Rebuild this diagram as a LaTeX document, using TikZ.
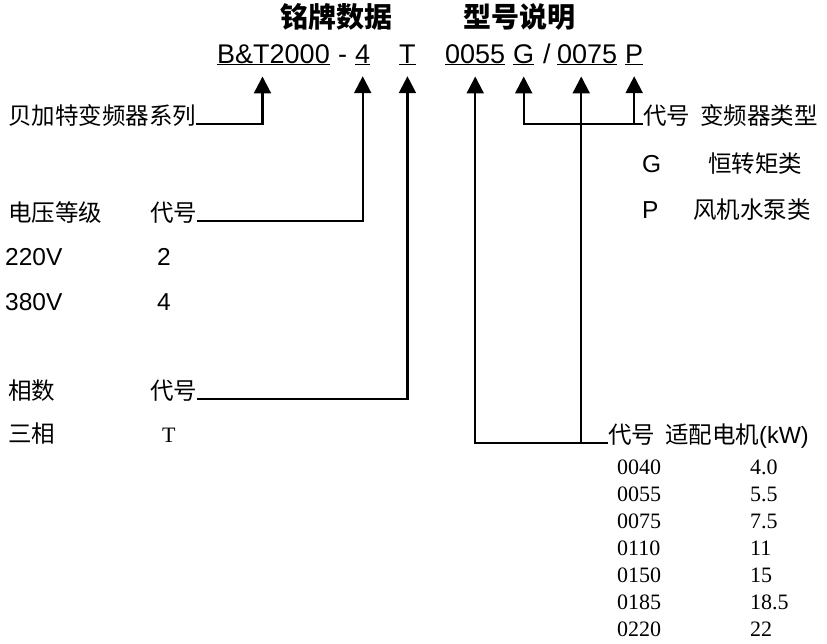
\documentclass[tikz,border=0pt]{standalone}
\usepackage{fontspec}
\setmainfont{Liberation Sans}
\newfontfamily\cjk{Noto Sans CJK SC}
\newfontfamily\tnr{Liberation Serif}
\usetikzlibrary{arrows.meta}

\begin{document}
\begin{tikzpicture}[x=1pt,y=-1pt,
    title/.style={anchor=base west,inner sep=0pt,font=\fontsize{28}{32}\selectfont\cjk\bfseries},
    code/.style={anchor=base west,inner sep=0pt,font=\fontsize{27}{32}\selectfont},
    cn/.style={anchor=base west,inner sep=0pt,font=\fontsize{23.5}{28}\selectfont\cjk},
    lat/.style={anchor=base west,inner sep=0pt,font=\fontsize{24.5}{28}\selectfont},
    tab/.style={anchor=base west,inner sep=0pt,font=\fontsize{22}{26}\selectfont\tnr},
    arr/.style={-{Triangle[width=17pt,length=17pt]},line width=2.2pt,shorten >=11pt}]
    \useasboundingbox (0,0) rectangle (827,643);

        % heading
        \node[title] (plate) at (280,27) {铭牌数据};
        \node[title] (model) at (463,27) {型号说明};

        % model code
        \node[code] (series) at (217,63) {\underline{B\&T2000}};
        \node[code] (dash)   at (338,63) {-};
        \node[code] (volt)   at (355,63) {\underline{4}};
        \node[code] (phase)  at (399,63) {\underline{T}};
        \node[code] (power)  at (445,63) {\underline{0055}};
        \node[code] (typeG)  at (513,63) {\underline{G}};
        \node[code] (slash)  at (543,63) {/};
        \node[code] (power2) at (557,63) {\underline{0075}};
        \node[code] (typeP)  at (625,63) {\underline{P}};

        % left side
        \node[cn]  (seriesLbl) at (8,124)   {贝加特变频器系列};
        \node[cn]  (voltLbl)   at (8,221)   {电压等级};
        \node[cn]  (voltCode)  at (150,221) {代号};
        \node[lat] (v220)      at (5,265)   {220V};
        \node[lat] (c2)        at (157,265) {2};
        \node[lat] (v380)      at (5,310)   {380V};
        \node[lat] (c4)        at (157,310) {4};
        \node[cn]  (phaseLbl)  at (8,399)   {相数};
        \node[cn]  (phaseCode) at (150,399) {代号};
        \node[cn]  (three)     at (8,442)   {三相};
        \node[tab] (cT)        at (162,442) {T};

        % right side
        \node[cn]  (typeLbl)  at (643,124) {代号\hspace{10pt}变频器类型};
        \node[lat] (gCode)    at (642,172) {G};
        \node[cn]  (gName)    at (708,172) {恒转矩类};
        \node[lat] (pCode)    at (642,218) {P};
        \node[cn]  (pName)    at (693,218) {风机水泵类};
        \node[cn]  (motorLbl) at (608,443) {代号\hspace{10pt}适配电机{\rmfamily(kW)}};

        \foreach \kode/\kw [count=\i] in {0040/4.0,0055/5.5,0075/7.5,0110/11,0150/15,0185/18.5,0220/22}{
            \node[tab] (kode\i) at (617,{474+27*(\i-1)}) {\kode};
            \node[tab] (kw\i)   at (750,{474+27*(\i-1)}) {\kw};
        }

        \draw[arr] (seriesLbl.base east) -| ([xshift=-11pt]series.south);
        \draw[arr] (voltCode.base east) -| (volt.south);
        \draw[arr] (phaseCode.base east) -| (phase.south);
        \draw[arr] (typeLbl.base west) -| (typeG.south);
        \draw[arr] (typeLbl.base west) -| (typeP.south);
        \draw[arr] (motorLbl.base west) -| (power.south);
        \draw[arr] (motorLbl.base west) -| ([xshift=-6pt]power2.south);
    \end{tikzpicture}
\end{document}
